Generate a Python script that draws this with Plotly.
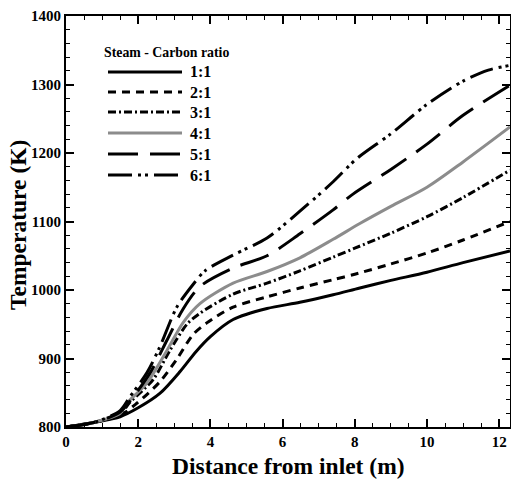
import plotly.graph_objects as go

# distance from inlet (m) and temperature (K) for each steam-carbon ratio
x_11 = [0, 0.8, 1.5, 2.0, 2.6, 3.16, 3.6, 4.0, 4.63, 5.57, 6.48, 7.4, 8.14, 9, 10, 11, 12.3]
t_11 = [800, 807, 815, 828, 849, 881, 910, 932, 957, 973, 982, 993, 1003, 1014, 1026, 1040, 1057]

x_21 = [0, 0.8, 1.5, 1.97, 2.6, 3.07, 3.52, 3.9, 4.63, 5.57, 6.48, 7.4, 8, 9, 10, 11, 12.3]
t_21 = [800, 807, 817, 835, 866, 899, 935, 952, 975, 990, 1003, 1015, 1023, 1038, 1054, 1073, 1100]

x_31 = [0, 0.8, 1.5, 1.77, 2.41, 2.88, 3.35, 3.71, 4.63, 5.57, 6.48, 7.4, 8, 9, 10, 11, 12.3]
t_31 = [800, 807, 819, 836, 869, 912, 950, 966, 994, 1010, 1028, 1048, 1061, 1083, 1107, 1135, 1175]

x_41 = [0, 0.8, 1.5, 1.69, 2.24, 2.8, 3.24, 3.71, 4.63, 5.57, 6.48, 7.4, 8.14, 9, 10, 11, 12.3]
t_41 = [800, 807, 820, 835, 864, 912, 952, 980, 1010, 1027, 1047, 1074, 1097, 1122, 1150, 1187, 1238]

x_51 = [0, 0.8, 1.5, 1.86, 2.33, 2.8, 3.24, 3.71, 4.63, 5.57, 6.48, 7.4, 7.95, 9, 10, 11, 12.3]
t_51 = [800, 807, 822, 844, 879, 927, 972, 1005, 1032, 1050, 1082, 1117, 1140, 1176, 1213, 1255, 1299]

x_61 = [0, 0.8, 1.5, 1.77, 2.24, 2.6, 3.07, 3.52, 3.85, 4.63, 5.57, 6.48, 7.4, 8.06, 9, 10, 11, 11.7, 12.3]
t_61 = [800, 807, 824, 844, 879, 917, 975, 1008, 1028, 1051, 1076, 1115, 1158, 1192, 1228, 1271, 1305, 1321, 1328]

labels = ["1:1", "2:1", "3:1", "4:1", "5:1", "6:1"]
series = [(x_11, t_11), (x_21, t_21), (x_31, t_31), (x_41, t_41), (x_51, t_51), (x_61, t_61)]
styles = [
    dict(color="black", dash="solid"),
    dict(color="black", dash="8px,6px"),
    dict(color="black", dash="8px,3px,2px,3px"),
    dict(color="#8c8c8c", dash="solid"),
    dict(color="black", dash="30px,12px"),
    dict(color="black", dash="24px,6px,3px,4px,3px,6px"),
]

W, H = 511, 479
L, R, T, B = 66, 1, 16, 52
PW, PH = W - L - R, H - T - B


def px(x):
    return (x - L) / PW


def py(y):
    return (H - B - y) / PH


serif = "Liberation Serif"
fig = go.Figure()
for lab, (xs, ts), st in zip(labels, series, styles):
    fig.add_trace(go.Scatter(x=xs, y=ts, mode="lines", name=lab, showlegend=False,
                             line=dict(width=3, shape="spline", smoothing=0.8, **st)))

# hand-drawn legend box (long line samples like the original)
leg_rows = [72, 92, 112, 133, 154, 175]
for lab, st, yy in zip(labels, styles, leg_rows):
    fig.add_shape(type="line", xref="paper", yref="paper",
                  x0=px(108), x1=px(182), y0=py(yy), y1=py(yy),
                  line=dict(width=3, **st))
    fig.add_annotation(text=lab, xref="paper", yref="paper", x=px(188), y=py(yy),
                       xanchor="left", yanchor="middle", showarrow=False,
                       font=dict(family=serif, size=16, color="black", weight="bold"))
fig.add_annotation(text="Steam - Carbon ratio", xref="paper", yref="paper",
                   x=px(102), y=py(52), xanchor="left", yanchor="middle", showarrow=False,
                   font=dict(family=serif, size=13.8, color="black", weight="bold"))

# axis titles
fig.add_annotation(text="Distance from inlet (m)", xref="paper", yref="paper",
                   x=px(288), y=py(466), xanchor="center", yanchor="middle", showarrow=False,
                   font=dict(family=serif, size=23.5, color="black", weight="bold"))
fig.add_annotation(text="Temperature (K)", xref="paper", yref="paper", textangle=-90,
                   x=px(18), y=py(225), xanchor="center", yanchor="middle", showarrow=False,
                   font=dict(family=serif, size=23.5, color="black", weight="bold"))

axis_common = dict(showline=True, linecolor="black", linewidth=2, mirror="ticks",
                   ticks="inside", tickcolor="black", tickwidth=2, ticklen=8,
                   showgrid=False, zeroline=False, automargin=False,
                   tickfont=dict(family=serif, size=15, color="black", weight="bold"))

fig.update_layout(
    width=W, height=H,
    margin=dict(l=L, r=R, t=T, b=B),
    plot_bgcolor="white", paper_bgcolor="white",
    showlegend=False,
    xaxis=dict(range=[0, 12.3], dtick=2, tick0=0,
               minor=dict(dtick=0.5, ticks="inside", ticklen=4, tickcolor="black", tickwidth=1),
               **axis_common),
    yaxis=dict(range=[800, 1400], dtick=100,
               minor=dict(dtick=20, ticks="inside", ticklen=4, tickcolor="black", tickwidth=1),
               **axis_common),
)

# drop the page's default body margin so the figure sits at the window corner
fig.write_html("out.html", config={"displayModeBar": False},
               post_script="document.body.style.margin='0';")
